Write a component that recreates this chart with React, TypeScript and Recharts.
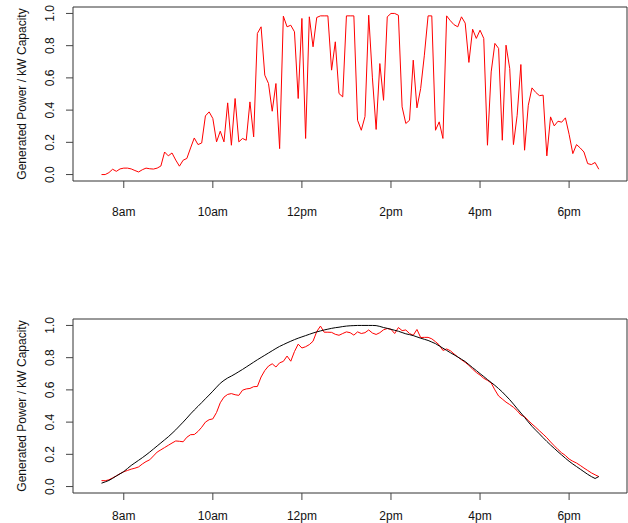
import { LineChart, Line, XAxis, YAxis, ReferenceArea } from 'recharts';

// 5-minute readings from 7:30am to 6:40pm
const startHour = 7.5;
const stepMinutes = 5;

// single day, normalised output
const dayPower = [
  0.0, 0.0, 0.012, 0.033, 0.02, 0.035, 0.04, 0.04, 0.035, 0.025,
  0.016, 0.03, 0.04, 0.036, 0.034, 0.04, 0.053, 0.14, 0.116, 0.134,
  0.09, 0.052, 0.089, 0.1, 0.165, 0.227, 0.186, 0.196, 0.364, 0.389,
  0.348, 0.203, 0.269, 0.203, 0.445, 0.182, 0.472, 0.203, 0.224, 0.213,
  0.451, 0.234, 0.876, 0.917, 0.617, 0.565, 0.393, 0.565, 0.161, 0.983,
  0.917, 0.927, 0.886, 0.472, 0.969, 0.224, 0.979, 0.793, 0.975, 0.985,
  0.985, 0.985, 0.648, 0.824, 0.503, 0.482, 0.985, 0.985, 0.985, 0.337,
  0.275, 0.36, 0.989, 0.6, 0.28, 0.689, 0.461, 0.979, 1.0, 1.0,
  0.989, 0.42, 0.317, 0.337, 0.71, 0.414, 0.534, 0.741, 0.985, 0.985,
  0.275, 0.327, 0.224, 0.985, 0.955, 0.93, 0.917, 0.979, 0.94, 0.696,
  0.902, 0.845, 0.896, 0.845, 0.182, 0.637, 0.814, 0.783, 0.213, 0.803,
  0.658, 0.186, 0.368, 0.683, 0.151, 0.43, 0.538, 0.51, 0.49, 0.493,
  0.116, 0.358, 0.302, 0.331, 0.325, 0.352, 0.25, 0.13, 0.186, 0.165,
  0.14, 0.068, 0.062, 0.075, 0.033,
];

// best days, averaged
const peakPower = [
  0.037, 0.036, 0.042, 0.054, 0.066, 0.08, 0.092, 0.1, 0.108, 0.114,
  0.122, 0.14, 0.155, 0.166, 0.19, 0.214, 0.228, 0.242, 0.256, 0.27,
  0.283, 0.281, 0.278, 0.306, 0.322, 0.323, 0.342, 0.368, 0.4, 0.415,
  0.42, 0.46, 0.52, 0.555, 0.572, 0.577, 0.57, 0.566, 0.598, 0.606,
  0.609, 0.62, 0.621, 0.68, 0.72, 0.748, 0.762, 0.742, 0.768, 0.777,
  0.81, 0.778, 0.838, 0.884, 0.86, 0.868, 0.881, 0.902, 0.962, 0.996,
  0.958, 0.958, 0.957, 0.945, 0.939, 0.95, 0.96, 0.955, 0.94, 0.96,
  0.95, 0.955, 0.972, 0.953, 0.944, 0.955, 0.973, 0.981, 0.976, 0.95,
  0.987, 0.968, 0.972, 0.95, 0.939, 0.975, 0.925, 0.926, 0.926, 0.917,
  0.899, 0.879, 0.845, 0.854, 0.843, 0.823, 0.805, 0.787, 0.771, 0.752,
  0.729, 0.708, 0.692, 0.672, 0.659, 0.643, 0.6, 0.562, 0.543, 0.524,
  0.509, 0.492, 0.471, 0.444, 0.434, 0.41, 0.388, 0.368, 0.346, 0.325,
  0.303, 0.277, 0.253, 0.23, 0.209, 0.193, 0.171, 0.157, 0.146, 0.131,
  0.115, 0.1, 0.085, 0.073, 0.062,
];

// clear-sky model
const modelPower = [
  0.021, 0.029, 0.038, 0.051, 0.066, 0.079, 0.093, 0.112, 0.131, 0.147,
  0.163, 0.179, 0.196, 0.214, 0.233, 0.252, 0.271, 0.29, 0.309, 0.33,
  0.352, 0.376, 0.4, 0.425, 0.451, 0.475, 0.498, 0.521, 0.545, 0.568,
  0.592, 0.617, 0.641, 0.659, 0.674, 0.686, 0.699, 0.713, 0.727, 0.742,
  0.757, 0.772, 0.787, 0.801, 0.815, 0.829, 0.843, 0.857, 0.87, 0.881,
  0.892, 0.902, 0.912, 0.921, 0.929, 0.937, 0.945, 0.953, 0.96, 0.966,
  0.972, 0.977, 0.982, 0.986, 0.989, 0.993, 0.996, 0.998, 0.999, 1.0,
  1.0, 1.0, 1.0, 1.0, 0.999, 0.994, 0.987, 0.982, 0.976, 0.97,
  0.964, 0.956, 0.948, 0.943, 0.937, 0.929, 0.921, 0.914, 0.907, 0.897,
  0.887, 0.873, 0.859, 0.845, 0.831, 0.818, 0.804, 0.79, 0.776, 0.757,
  0.738, 0.72, 0.701, 0.683, 0.664, 0.646, 0.628, 0.608, 0.587, 0.563,
  0.539, 0.512, 0.484, 0.457, 0.429, 0.401, 0.374, 0.35, 0.327, 0.303,
  0.28, 0.258, 0.237, 0.216, 0.196, 0.176, 0.157, 0.14, 0.124, 0.108,
  0.092, 0.076, 0.062, 0.05, 0.062,
];

const hourTicks = [8, 10, 12, 14, 16, 18];
const hourLabels = ['8am', '10am', '12pm', '2pm', '4pm', '6pm'];
const powerTicks = [0, 0.2, 0.4, 0.6, 0.8, 1.0];

const X_DOMAIN: [number, number] = [6.86, 19.3];
const Y_DOMAIN: [number, number] = [-0.04, 1.04];

const FONT = '"Liberation Sans", Arial, sans-serif';

const rows = dayPower.map((v, i) => ({
  hour: startHour + (i * stepMinutes) / 60,
  day: v,
  peak: peakPower[i],
  model: modelPower[i],
}));

function HourTick({ x, y, payload, offset }: any) {
  const label = hourLabels[hourTicks.indexOf(payload.value)];
  return (
    <text x={x} y={y + offset} textAnchor="middle" dominantBaseline="central"
      fontFamily={FONT} fontSize={12} fill="#111">
      {label}
    </text>
  );
}

function PowerTick({ x, y, payload }: any) {
  const cx = x - 16;
  return (
    <text x={cx} y={y} textAnchor="middle" dominantBaseline="central"
      transform={`rotate(-90, ${cx}, ${y})`} fontFamily={FONT} fontSize={12} fill="#111">
      {Number(payload.value).toFixed(1)}
    </text>
  );
}

function AxisTitle({ viewBox }: any) {
  const cx = 22;
  const cy = viewBox.y + viewBox.height / 2;
  return (
    <text x={cx} y={cy} textAnchor="middle" dominantBaseline="central"
      transform={`rotate(-90, ${cx}, ${cy})`} fontFamily={FONT} fontSize={12} fill="#111">
      Generated Power / kW Capacity
    </text>
  );
}

function Panel({ keys, labelOffset }: { keys: { key: string; color: string }[]; labelOffset: number }) {
  return (
    <LineChart width={628} height={230} data={rows} margin={{ top: 7, right: 1, bottom: 0, left: 0 }}>
      <XAxis dataKey="hour" type="number" domain={X_DOMAIN} ticks={hourTicks} allowDataOverflow
        interval={0} height={49} axisLine={false} tickSize={7} tickMargin={0}
        tickLine={{ stroke: '#444' }} tick={<HourTick offset={labelOffset} />} />
      <YAxis type="number" domain={Y_DOMAIN} ticks={powerTicks} allowDataOverflow
        interval={0} width={73} axisLine={false} tickSize={7} tickMargin={0}
        tickLine={{ stroke: '#444' }} tick={<PowerTick />} label={<AxisTitle />} />
      <ReferenceArea x1={X_DOMAIN[0]} x2={X_DOMAIN[1]} y1={Y_DOMAIN[0]} y2={Y_DOMAIN[1]}
        fill="none" fillOpacity={0} stroke="#333" strokeWidth={1} />
      {keys.map((s) => (
        <Line key={s.key} type="linear" dataKey={s.key} stroke={s.color} strokeWidth={1}
          dot={false} isAnimationActive={false} />
      ))}
    </LineChart>
  );
}

export default function App() {
  return (
    <div style={{ position: 'absolute', left: 0, top: 0, width: 628, height: 523, background: '#fff' }}>
      <div style={{ position: 'absolute', left: 0, top: 0 }}>
        <Panel keys={[{ key: 'day', color: '#ff0000' }]} labelOffset={23.5} />
      </div>
      <div style={{ position: 'absolute', left: 0, top: 312 }}>
        <Panel
          keys={[
            { key: 'peak', color: '#ff0000' },
            { key: 'model', color: '#000000' },
          ]}
          labelOffset={15.5}
        />
      </div>
    </div>
  );
}
